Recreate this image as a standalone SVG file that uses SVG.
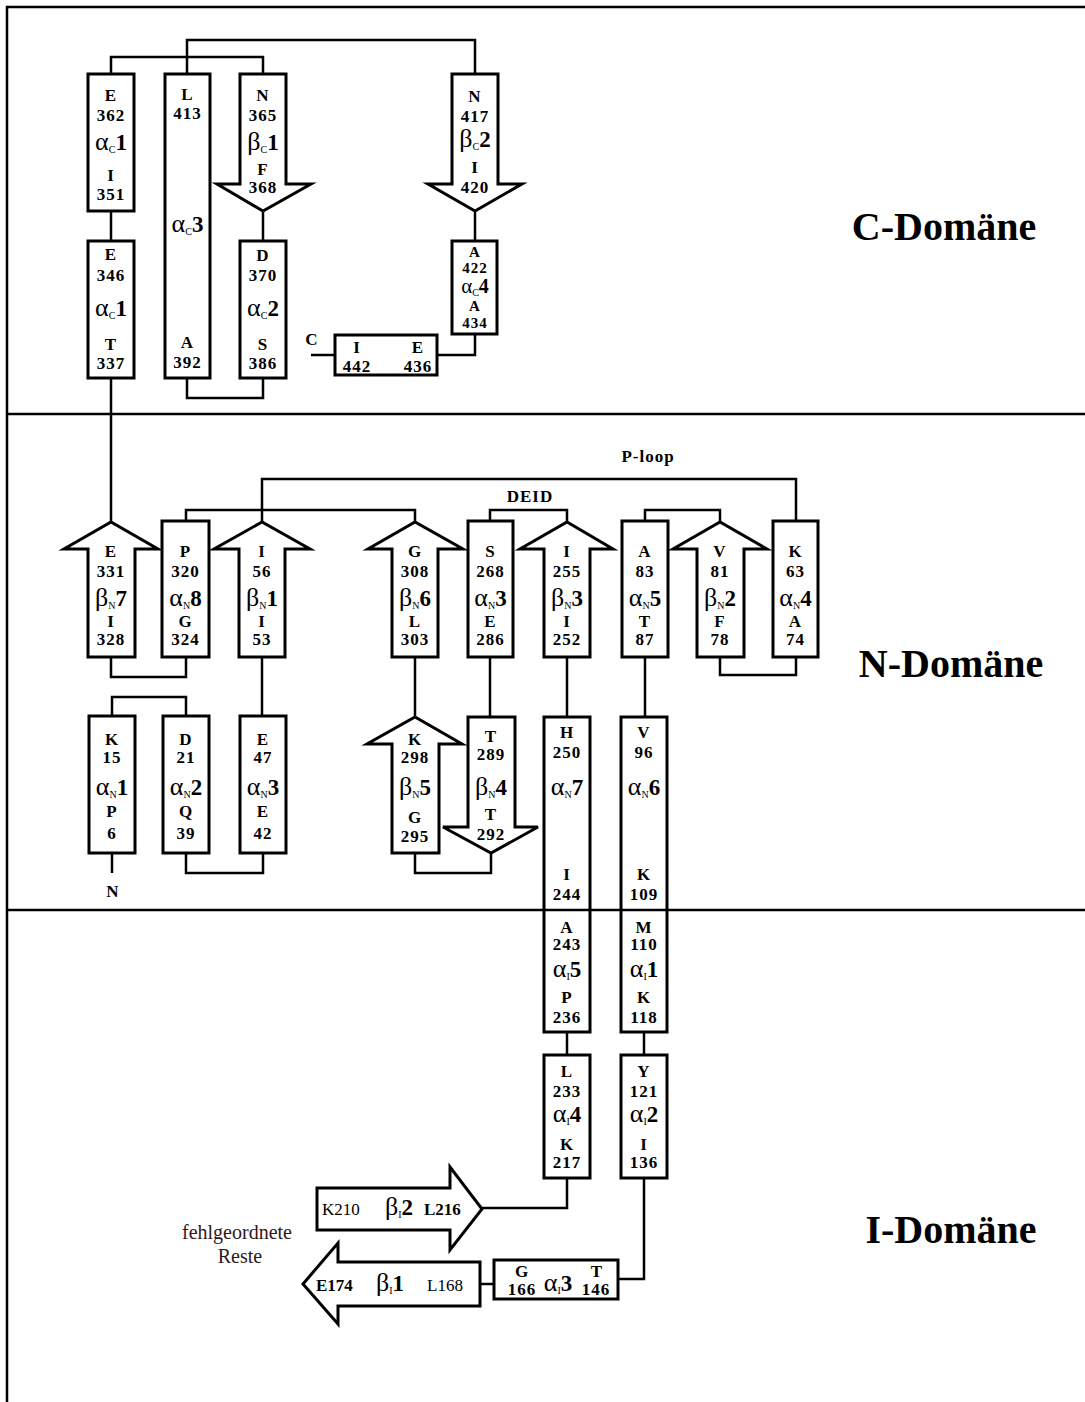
<svg xmlns="http://www.w3.org/2000/svg" width="1085" height="1402" viewBox="0 0 1085 1402">
<style>
.box{fill:#fff;stroke:#000;stroke-width:3}
.ln{fill:none;stroke:#000;stroke-width:2.5}
.fr{fill:none;stroke:#000;stroke-width:2.5}
text{font-family:"Liberation Serif","Times New Roman",serif;fill:#000}
.t{font-weight:bold;font-size:17px;text-anchor:middle;letter-spacing:1px}
.g{font-weight:normal;font-size:26px;letter-spacing:0}
.s{font-weight:normal;font-size:10px;letter-spacing:0}
.n{font-weight:bold;font-size:23px;letter-spacing:0}
.sm{font-size:15px}
.gs{font-weight:normal;font-size:21px;letter-spacing:0}
.ns{font-weight:bold;font-size:20px;letter-spacing:0}
.lab{font-weight:bold;font-size:40px;text-anchor:middle}
.r{font-weight:normal;font-size:17px}
.b{font-weight:bold;font-size:17px}
.note{font-weight:normal;font-size:20px;text-anchor:middle;fill:#301818}
</style>
<g id="connectors">
<path class="ln" d="M111,74 V57 H263 V74"/>
<path class="ln" d="M187,74 V40 H475 V74"/>
<path class="ln" d="M111,211 V241"/>
<path class="ln" d="M263,211 V241"/>
<path class="ln" d="M187,378 V398 H263 V378"/>
<path class="ln" d="M475,211 V241"/>
<path class="ln" d="M475,334 V355 H437"/>
<path class="ln" d="M311,355 H335"/>
<path class="ln" d="M111,378 V522"/>
<path class="ln" d="M111,657 V677 H186 V657"/>
<path class="ln" d="M186,521 V510 H415 V522"/>
<path class="ln" d="M262,522 V479 H796 V521"/>
<path class="ln" d="M490,521 V510 H567 V522"/>
<path class="ln" d="M645,521 V510 H720 V522"/>
<path class="ln" d="M720,657 V675 H796 V657"/>
<path class="ln" d="M262,657 V716"/>
<path class="ln" d="M415,657 V717"/>
<path class="ln" d="M490,657 V717"/>
<path class="ln" d="M567,657 V717"/>
<path class="ln" d="M645,657 V717"/>
<path class="ln" d="M112,716 V697 H186 V716"/>
<path class="ln" d="M186,853 V873 H263 V853"/>
<path class="ln" d="M112,853 V873"/>
<path class="ln" d="M415,853 V873 H491 V853"/>
<path class="ln" d="M567,1032 V1055"/>
<path class="ln" d="M644,1032 V1055"/>
<path class="ln" d="M567,1178 V1208 H482"/>
<path class="ln" d="M644,1178 V1279 H618"/>
<path class="ln" d="M480,1284 H494"/>
</g>

<!-- C domain -->
<g id="aC1b"><rect class="box" x="88" y="74" width="46" height="137"/>
<text class="t" x="111" y="101">E</text><text class="t" x="111" y="121">362</text>
<text class="t" x="111" y="150"><tspan class="g">α</tspan><tspan class="s" dy="3">C</tspan><tspan class="n" dy="-3">1</tspan></text>
<text class="t" x="111" y="181">I</text><text class="t" x="111" y="200">351</text></g>
<g id="aC1a"><rect class="box" x="88" y="241" width="46" height="137"/>
<text class="t" x="111" y="260">E</text><text class="t" x="111" y="281">346</text>
<text class="t" x="111" y="316"><tspan class="g">α</tspan><tspan class="s" dy="3">C</tspan><tspan class="n" dy="-3">1</tspan></text>
<text class="t" x="111" y="350">T</text><text class="t" x="111" y="369">337</text></g>
<g id="aC3"><rect class="box" x="165" y="74" width="45" height="304"/>
<text class="t" x="187.5" y="100">L</text><text class="t" x="187.5" y="119">413</text>
<text class="t" x="187.5" y="232"><tspan class="g">α</tspan><tspan class="s" dy="3">C</tspan><tspan class="n" dy="-3">3</tspan></text>
<text class="t" x="187.5" y="348">A</text><text class="t" x="187.5" y="368">392</text></g>
<g id="bC1"><polygon class="box" points="240,74 286,74 286,184 311,184 263,211 217,184 240,184"/>
<text class="t" x="263" y="101">N</text><text class="t" x="263" y="121">365</text>
<text class="t" x="263" y="150"><tspan class="g">β</tspan><tspan class="s" dy="3">C</tspan><tspan class="n" dy="-3">1</tspan></text>
<text class="t" x="263" y="175">F</text><text class="t" x="263" y="193">368</text></g>
<g id="aC2"><rect class="box" x="240" y="241" width="46" height="137"/>
<text class="t" x="263" y="261">D</text><text class="t" x="263" y="281">370</text>
<text class="t" x="263" y="316"><tspan class="g">α</tspan><tspan class="s" dy="3">C</tspan><tspan class="n" dy="-3">2</tspan></text>
<text class="t" x="263" y="350">S</text><text class="t" x="263" y="369">386</text></g>
<g id="bC2"><polygon class="box" points="452,74 498,74 498,184 522,184 475,211 428,184 452,184"/>
<text class="t" x="475" y="102">N</text><text class="t" x="475" y="122">417</text>
<text class="t" x="475" y="147"><tspan class="g">β</tspan><tspan class="s" dy="3">C</tspan><tspan class="n" dy="-3">2</tspan></text>
<text class="t" x="475" y="173">I</text><text class="t" x="475" y="193">420</text></g>
<g id="aC4"><rect class="box" x="452" y="241" width="45" height="93"/>
<text class="t sm" x="475" y="257">A</text><text class="t sm" x="475" y="273">422</text>
<text class="t" x="475" y="293"><tspan class="gs">α</tspan><tspan class="s" dy="3">C</tspan><tspan class="ns" dy="-3">4</tspan></text>
<text class="t sm" x="475" y="311">A</text><text class="t sm" x="475" y="328">434</text></g>
<g id="Cterm"><rect class="box" x="335" y="335" width="102" height="40"/>
<text class="t" x="357" y="353">I</text><text class="t" x="418" y="353">E</text>
<text class="t" x="357" y="372">442</text><text class="t" x="418" y="372">436</text>
<text class="t" x="312" y="345">C</text></g>

<!-- N domain top row -->
<g id="bN7"><polygon class="box" points="88,657 88,549 64,549 111,522 158,549 135,549 135,657"/>
<text class="t" x="111" y="557">E</text><text class="t" x="111" y="577">331</text>
<text class="t" x="111" y="606"><tspan class="g">β</tspan><tspan class="s" dy="3">N</tspan><tspan class="n" dy="-3">7</tspan></text>
<text class="t" x="111" y="627">I</text><text class="t" x="111" y="645">328</text></g>
<g id="aN8"><rect class="box" x="162" y="521" width="47" height="136"/>
<text class="t" x="185.5" y="557">P</text><text class="t" x="185.5" y="577">320</text>
<text class="t" x="185.5" y="606"><tspan class="g">α</tspan><tspan class="s" dy="3">N</tspan><tspan class="n" dy="-3">8</tspan></text>
<text class="t" x="185.5" y="627">G</text><text class="t" x="185.5" y="645">324</text></g>
<g id="bN1"><polygon class="box" points="239,657 239,549 214,549 262,522 310,549 285,549 285,657"/>
<text class="t" x="262" y="557">I</text><text class="t" x="262" y="577">56</text>
<text class="t" x="262" y="606"><tspan class="g">β</tspan><tspan class="s" dy="3">N</tspan><tspan class="n" dy="-3">1</tspan></text>
<text class="t" x="262" y="627">I</text><text class="t" x="262" y="645">53</text></g>
<g id="bN6"><polygon class="box" points="392,657 392,549 368,549 415,522 463,549 438,549 438,657"/>
<text class="t" x="415" y="557">G</text><text class="t" x="415" y="577">308</text>
<text class="t" x="415" y="606"><tspan class="g">β</tspan><tspan class="s" dy="3">N</tspan><tspan class="n" dy="-3">6</tspan></text>
<text class="t" x="415" y="627">L</text><text class="t" x="415" y="645">303</text></g>
<g id="aN3top"><rect class="box" x="468" y="521" width="45" height="136"/>
<text class="t" x="490.5" y="557">S</text><text class="t" x="490.5" y="577">268</text>
<text class="t" x="490.5" y="606"><tspan class="g">α</tspan><tspan class="s" dy="3">N</tspan><tspan class="n" dy="-3">3</tspan></text>
<text class="t" x="490.5" y="627">E</text><text class="t" x="490.5" y="645">286</text></g>
<g id="bN3"><polygon class="box" points="544,657 544,549 520,549 567,522 613,549 590,549 590,657"/>
<text class="t" x="567" y="557">I</text><text class="t" x="567" y="577">255</text>
<text class="t" x="567" y="606"><tspan class="g">β</tspan><tspan class="s" dy="3">N</tspan><tspan class="n" dy="-3">3</tspan></text>
<text class="t" x="567" y="627">I</text><text class="t" x="567" y="645">252</text></g>
<g id="aN5"><rect class="box" x="622" y="521" width="46" height="136"/>
<text class="t" x="645" y="557">A</text><text class="t" x="645" y="577">83</text>
<text class="t" x="645" y="606"><tspan class="g">α</tspan><tspan class="s" dy="3">N</tspan><tspan class="n" dy="-3">5</tspan></text>
<text class="t" x="645" y="627">T</text><text class="t" x="645" y="645">87</text></g>
<g id="bN2"><polygon class="box" points="697,657 697,549 673,549 720,522 767,549 744,549 744,657"/>
<text class="t" x="720" y="557">V</text><text class="t" x="720" y="577">81</text>
<text class="t" x="720" y="606"><tspan class="g">β</tspan><tspan class="s" dy="3">N</tspan><tspan class="n" dy="-3">2</tspan></text>
<text class="t" x="720" y="627">F</text><text class="t" x="720" y="645">78</text></g>
<g id="aN4"><rect class="box" x="773" y="521" width="45" height="136"/>
<text class="t" x="795.5" y="557">K</text><text class="t" x="795.5" y="577">63</text>
<text class="t" x="795.5" y="606"><tspan class="g">α</tspan><tspan class="s" dy="3">N</tspan><tspan class="n" dy="-3">4</tspan></text>
<text class="t" x="795.5" y="627">A</text><text class="t" x="795.5" y="645">74</text></g>

<!-- N domain bottom row -->
<g id="aN1"><rect class="box" x="89" y="716" width="46" height="137"/>
<text class="t" x="112" y="745">K</text><text class="t" x="112" y="763">15</text>
<text class="t" x="112" y="795"><tspan class="g">α</tspan><tspan class="s" dy="3">N</tspan><tspan class="n" dy="-3">1</tspan></text>
<text class="t" x="112" y="817">P</text><text class="t" x="112" y="839">6</text>
<text class="t" x="113" y="897">N</text></g>
<g id="aN2"><rect class="box" x="163" y="716" width="46" height="137"/>
<text class="t" x="186" y="745">D</text><text class="t" x="186" y="763">21</text>
<text class="t" x="186" y="795"><tspan class="g">α</tspan><tspan class="s" dy="3">N</tspan><tspan class="n" dy="-3">2</tspan></text>
<text class="t" x="186" y="817">Q</text><text class="t" x="186" y="839">39</text></g>
<g id="aN3"><rect class="box" x="240" y="716" width="46" height="137"/>
<text class="t" x="263" y="745">E</text><text class="t" x="263" y="763">47</text>
<text class="t" x="263" y="795"><tspan class="g">α</tspan><tspan class="s" dy="3">N</tspan><tspan class="n" dy="-3">3</tspan></text>
<text class="t" x="263" y="817">E</text><text class="t" x="263" y="839">42</text></g>
<g id="bN5"><polygon class="box" points="392,853 392,744 367,744 415,717 462,744 439,744 439,853"/>
<text class="t" x="415" y="745">K</text><text class="t" x="415" y="763">298</text>
<text class="t" x="415" y="795"><tspan class="g">β</tspan><tspan class="s" dy="3">N</tspan><tspan class="n" dy="-3">5</tspan></text>
<text class="t" x="415" y="823">G</text><text class="t" x="415" y="842">295</text></g>
<g id="bN4"><polygon class="box" points="468,717 515,717 515,827 538,827 491,853 443,827 468,827"/>
<text class="t" x="491" y="742">T</text><text class="t" x="491" y="760">289</text>
<text class="t" x="491" y="795"><tspan class="g">β</tspan><tspan class="s" dy="3">N</tspan><tspan class="n" dy="-3">4</tspan></text>
<text class="t" x="491" y="820">T</text><text class="t" x="491" y="840">292</text></g>
<g id="aN7"><rect class="box" x="544" y="717" width="46" height="315"/>
<text class="t" x="567" y="738">H</text><text class="t" x="567" y="758">250</text>
<text class="t" x="567" y="795"><tspan class="g">α</tspan><tspan class="s" dy="3">N</tspan><tspan class="n" dy="-3">7</tspan></text>
<text class="t" x="567" y="880">I</text><text class="t" x="567" y="900">244</text></g>
<g id="aN6"><rect class="box" x="621" y="717" width="46" height="315"/>
<text class="t" x="644" y="738">V</text><text class="t" x="644" y="758">96</text>
<text class="t" x="644" y="795"><tspan class="g">α</tspan><tspan class="s" dy="3">N</tspan><tspan class="n" dy="-3">6</tspan></text>
<text class="t" x="644" y="880">K</text><text class="t" x="644" y="900">109</text></g>

<!-- I domain -->
<g id="aI5">
<text class="t" x="567" y="933">A</text><text class="t" x="567" y="950">243</text>
<text class="t" x="567" y="977"><tspan class="g">α</tspan><tspan class="s" dy="3">I</tspan><tspan class="n" dy="-3">5</tspan></text>
<text class="t" x="567" y="1003">P</text><text class="t" x="567" y="1023">236</text></g>
<g id="aI1">
<text class="t" x="644" y="933">M</text><text class="t" x="644" y="950">110</text>
<text class="t" x="644" y="977"><tspan class="g">α</tspan><tspan class="s" dy="3">I</tspan><tspan class="n" dy="-3">1</tspan></text>
<text class="t" x="644" y="1003">K</text><text class="t" x="644" y="1023">118</text></g>
<g id="aI4"><rect class="box" x="544" y="1055" width="46" height="123"/>
<text class="t" x="567" y="1077">L</text><text class="t" x="567" y="1097">233</text>
<text class="t" x="567" y="1122"><tspan class="g">α</tspan><tspan class="s" dy="3">I</tspan><tspan class="n" dy="-3">4</tspan></text>
<text class="t" x="567" y="1150">K</text><text class="t" x="567" y="1168">217</text></g>
<g id="aI2"><rect class="box" x="621" y="1055" width="46" height="123"/>
<text class="t" x="644" y="1077">Y</text><text class="t" x="644" y="1097">121</text>
<text class="t" x="644" y="1122"><tspan class="g">α</tspan><tspan class="s" dy="3">I</tspan><tspan class="n" dy="-3">2</tspan></text>
<text class="t" x="644" y="1150">I</text><text class="t" x="644" y="1168">136</text></g>
<g id="aI3"><rect class="box" x="494" y="1260" width="124" height="39"/>
<text class="t" x="522" y="1277">G</text><text class="t" x="522" y="1295">166</text>
<text class="t" x="558" y="1291"><tspan class="g">α</tspan><tspan class="s" dy="3">I</tspan><tspan class="n" dy="-3">3</tspan></text>
<text class="t" x="597" y="1277">T</text><text class="t" x="596" y="1295">146</text></g>
<g id="bI2"><polygon class="box" points="317,1188 450,1188 450,1167 482,1209 450,1250 450,1230 317,1230"/>
<text class="r" x="322" y="1215">K210</text>
<text class="b" x="385" y="1215"><tspan class="g">β</tspan><tspan class="s" dy="3">I</tspan><tspan class="n" dy="-3">2</tspan></text>
<text class="b" x="424" y="1215">L216</text></g>
<g id="bI1"><polygon class="box" points="480,1262 338,1262 338,1243 303,1284 338,1324 338,1306 480,1306"/>
<text class="b" x="316" y="1291">E174</text>
<text class="b" x="376" y="1291"><tspan class="g">β</tspan><tspan class="s" dy="3">I</tspan><tspan class="n" dy="-3">1</tspan></text>
<text class="r" x="427" y="1291">L168</text></g>

<g id="labels">
<text class="t" x="648" y="462">P-loop</text>
<text class="t" x="530" y="502">DEID</text>
<text class="note" x="237" y="1239">fehlgeordnete</text>
<text class="note" x="240" y="1263">Reste</text>
<text class="lab" x="944" y="240">C-Domäne</text>
<text class="lab" x="951" y="677">N-Domäne</text>
<text class="lab" x="951" y="1243">I-Domäne</text>
</g>

<g id="frame">
<path class="fr" d="M7,1402 V7 H1085"/>
<path class="fr" d="M7,414 H1085"/>
<path class="fr" d="M7,910 H1085"/>
</g>
</svg>
